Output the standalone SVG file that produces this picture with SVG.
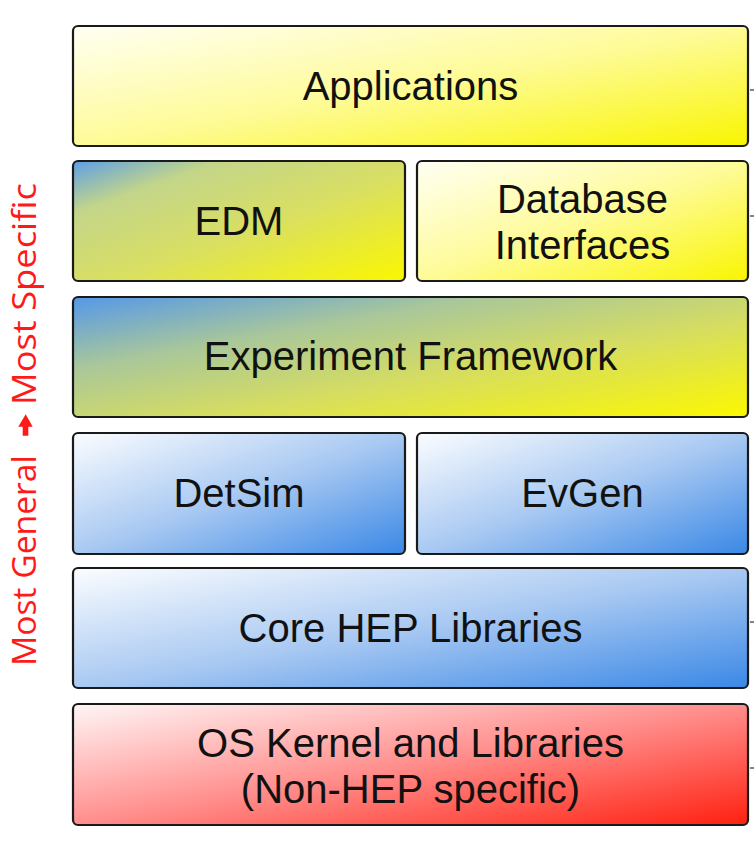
<svg xmlns="http://www.w3.org/2000/svg" width="754" height="848" viewBox="0 0 754 848">
  <style>
    .box { stroke: #1a1a1a; stroke-width: 2.2; }
    .lbl { font-family: "Liberation Sans", Arial, sans-serif; font-size: 40px; fill: #111; text-anchor: middle; }
    .side { font-family: "Open Sans", "Liberation Sans", sans-serif; font-size: 33px; fill: #ff1a1a; }
    .tick { stroke: #333; stroke-width: 1.2; }
  </style>
  <defs>
    <linearGradient id="gYellow" x1="0" y1="0" x2="1" y2="1">
      <stop offset="0" stop-color="#fffff4"/>
      <stop offset="0.5" stop-color="#fefb98"/>
      <stop offset="1" stop-color="#f9f500"/>
    </linearGradient>
    <linearGradient id="gMixEdm" x1="0" y1="0" x2="1" y2="1">
      <stop offset="0" stop-color="#5d9fe6"/>
      <stop offset="0.22" stop-color="#c3d58a"/>
      <stop offset="0.55" stop-color="#d9df62"/>
      <stop offset="1" stop-color="#fbf700"/>
    </linearGradient>
    <linearGradient id="gMixExp" x1="0" y1="0" x2="1" y2="1">
      <stop offset="0" stop-color="#5498ea"/>
      <stop offset="0.3" stop-color="#a9c79a"/>
      <stop offset="0.6" stop-color="#d6dd60"/>
      <stop offset="1" stop-color="#fcf800"/>
    </linearGradient>
    <linearGradient id="gBlue" x1="0" y1="0" x2="1" y2="1">
      <stop offset="0" stop-color="#fbfdff"/>
      <stop offset="0.5" stop-color="#a9c9f2"/>
      <stop offset="1" stop-color="#3a88e6"/>
    </linearGradient>
    <linearGradient id="gRed" x1="0" y1="0" x2="1" y2="1">
      <stop offset="0" stop-color="#fff6f6"/>
      <stop offset="0.5" stop-color="#ff8e8c"/>
      <stop offset="1" stop-color="#ff2010"/>
    </linearGradient>
  </defs>

  <rect width="754" height="848" fill="#ffffff"/>

  <g id="applications">
    <rect class="box" x="73" y="26" width="675" height="120" rx="5" fill="url(#gYellow)"/>
    <text class="lbl" x="410.5" y="100">Applications</text>
  </g>
  <g id="edm">
    <rect class="box" x="73" y="161" width="332" height="120" rx="5" fill="url(#gMixEdm)"/>
    <text class="lbl" x="239" y="235">EDM</text>
  </g>
  <g id="database-interfaces">
    <rect class="box" x="417" y="161" width="331" height="120" rx="5" fill="url(#gYellow)"/>
    <text class="lbl" x="582.5" y="213">Database</text>
    <text class="lbl" x="582.5" y="259">Interfaces</text>
  </g>
  <g id="experiment-framework">
    <rect class="box" x="73" y="297" width="675" height="120" rx="5" fill="url(#gMixExp)"/>
    <text class="lbl" x="410.5" y="370">Experiment Framework</text>
  </g>
  <g id="detsim">
    <rect class="box" x="73" y="433" width="332" height="121" rx="5" fill="url(#gBlue)"/>
    <text class="lbl" x="239" y="507">DetSim</text>
  </g>
  <g id="evgen">
    <rect class="box" x="417" y="433" width="331" height="121" rx="5" fill="url(#gBlue)"/>
    <text class="lbl" x="582.5" y="507">EvGen</text>
  </g>
  <g id="core-hep-libraries">
    <rect class="box" x="73" y="568" width="675" height="120" rx="5" fill="url(#gBlue)"/>
    <text class="lbl" x="410.5" y="642">Core HEP Libraries</text>
  </g>
  <g id="os-kernel">
    <rect class="box" x="73" y="704" width="675" height="121" rx="5" fill="url(#gRed)"/>
    <text class="lbl" x="410.5" y="757">OS Kernel and Libraries</text>
    <text class="lbl" x="410.5" y="803">(Non-HEP specific)</text>
  </g>

  <g id="axis-label">
    <text class="side" transform="translate(36 666) rotate(-90)" x="0" y="0" textLength="211" lengthAdjust="spacingAndGlyphs">Most General</text>
    <polygon points="25.7,414.3 32.7,426.7 28.3,426.7 28.3,435.7 22.7,435.7 22.7,426.7 18.3,426.7" fill="#ff1a1a"/>
    <text class="side" transform="translate(36 405) rotate(-90)" x="0" y="0" textLength="222" lengthAdjust="spacingAndGlyphs">Most Specific</text>
  </g>

  <g id="connectors">
    <line class="tick" x1="750" y1="90" x2="754" y2="90"/>
    <line class="tick" x1="750" y1="216" x2="754" y2="216"/>
    <line class="tick" x1="750" y1="622" x2="754" y2="622"/>
    <line class="tick" x1="750" y1="768" x2="754" y2="768"/>
  </g>
</svg>
